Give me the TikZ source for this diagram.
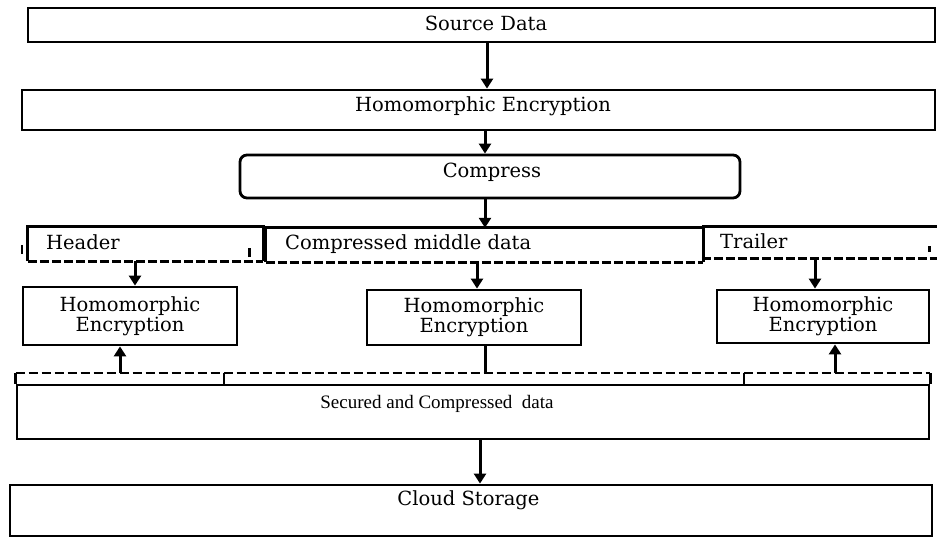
\documentclass[tikz,border=0pt]{standalone}
\usepackage{fontspec}
\setmainfont{DejaVu Serif}
\newfontfamily\secfont{Liberation Serif}
\usetikzlibrary{arrows.meta,calc}
\begin{document}
\begin{tikzpicture}[x=1pt,y=-1pt,
  box/.style={draw,line width=2.8pt,inner sep=0pt},
  plainbox/.style={inner sep=0pt},
  lbl/.style={font=\fontsize{19.5}{20}\selectfont,inner sep=0pt},
  arr/.style={line width=3pt,-{Triangle[width=12pt,length=10pt]}},
  ln/.style={line width=3pt},
  sl/.style={line width=2.8pt},
  dsh/.style={line width=2.8pt,dash pattern=on 9pt off 3pt},
  dshb/.style={line width=2.6pt,dash pattern=on 9pt off 4pt},
  tick/.style={line width=2.6pt}]
\useasboundingbox (0,0) rectangle (937,537);
% top chain
\node[box,minimum width=907pt,minimum height=34pt] (src) at (481.5,25) {};
\node[lbl,anchor=base] (srct) at (486,31) {Source Data};
\node[box,minimum width=913pt,minimum height=40pt] (he) at (478.5,110) {};
\node[lbl,anchor=base] (het) at (483,112) {Homomorphic Encryption};
\node[box,rounded corners=7pt,minimum width=500pt,minimum height=43pt] (comp) at (490,176.5) {};
\node[lbl,anchor=base] (compt) at (492,178) {Compress};
% header row
\node[plainbox,minimum width=235pt,minimum height=34pt] (hdr) at (145.5,244) {};
\node[plainbox,minimum width=437pt,minimum height=34pt] (mid) at (484.5,245) {};
\node[plainbox,minimum width=235pt,minimum height=31pt] (trl) at (819.5,242.5) {};
\node[lbl,anchor=base west] (hdrt) at (46,250) {Header};
\node[lbl,anchor=base west] (midt) at (285,250) {Compressed middle data};
\node[lbl,anchor=base west] (trlt) at (720,249) {Trailer};
\draw[sl] (hdr.south west) -- (hdr.north west) -- (hdr.north east) -- (hdr.south east);
\draw[dsh] (hdr.south west) -- (hdr.south east);
\draw[sl] (mid.south west) -- (mid.north west) -- (mid.north east) -- (mid.south east);
\draw[dsh] (mid.south west) -- (mid.south east);
\draw[sl] (trl.north west) -- (trl.north east);
\draw[dsh] (trl.south west) -- (trl.south east);
\draw[tick] ($(hdr.west)+(-6,1)$) -- ++(0,9);
\draw[tick] ($(hdr.south east)+(-14,-4)$) -- ++(0,-9);
\draw[tick] ($(trl.east)+(-8,4)$) -- ++(0,6);
% encryption boxes
\node[box,minimum width=214pt,minimum height=58pt,align=center,lbl] (e1) at (130,316) {Homomorphic\\Encryption};
\node[box,minimum width=214pt,minimum height=55pt,align=center,lbl] (e2) at (474,317.5) {Homomorphic\\Encryption};
\node[box,minimum width=212pt,minimum height=53pt,align=center,lbl] (e3) at (823,316.5) {Homomorphic\\Encryption};
% secured and cloud
\node[box,minimum width=912pt,minimum height=54pt] (sec) at (473,412) {};
\node[anchor=base,inner sep=0pt,font=\secfont\fontsize{19}{20}\selectfont] (sect) at (437,408) {Secured and Compressed\ \ data};
\node[box,minimum width=922pt,minimum height=51pt] (cl) at (471,510.5) {};
\node[lbl,anchor=base] (clt) at (468.5,505) {Cloud Storage};
% dashed collector line
\coordinate (dl) at (18,373);
\draw[dshb] (sec.north west |- dl) -- (sec.north east |- dl);
\draw[tick] (sec.north west |- dl) -- (sec.north west);
\draw[tick] (sec.north east |- dl) -- (sec.north east);
\coordinate (k1) at (224,373);
\coordinate (k2) at (744,373);
\draw[tick] (k1) -- (k1 |- sec.north);
\draw[tick] (k2) -- (k2 |- sec.north);
% arrows
\coordinate (a1) at (487,0);
\draw[arr] (src.south -| a1) -- (he.north -| a1);
\coordinate (a2) at (485,0);
\draw[arr] (he.south -| a2) -- (comp.north -| a2);
\draw[arr] (comp.south -| a2) -- (mid.north -| a2);
\coordinate (a3) at (135,0);
\draw[arr] (hdr.south -| a3) -- (e1.north -| a3);
\coordinate (a4) at (477,0);
\draw[arr] (mid.south -| a4) -- (e2.north -| a4);
\coordinate (a5) at (815,0);
\draw[arr] (trl.south -| a5) -- (e3.north -| a5);
\coordinate (a6) at (120,0);
\draw[arr] (dl -| a6) -- (e1.south -| a6);
\coordinate (a7) at (485,0);
\draw[ln] (e2.south -| a7) -- (dl -| a7);
\coordinate (a8) at (835,0);
\draw[arr] (dl -| a8) -- (e3.south -| a8);
\coordinate (a9) at (480,0);
\draw[arr] (sec.south -| a9) -- (cl.north -| a9);
\end{tikzpicture}
\end{document}
